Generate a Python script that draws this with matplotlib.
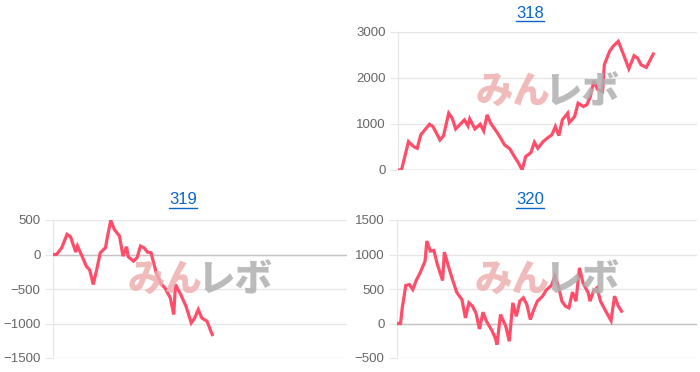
import matplotlib.pyplot as plt

plt.rcParams['font.family'] = ['Liberation Sans', 'DejaVu Sans']

# 318
x318 = [0, 2, 6, 9, 11, 13, 18, 20, 24, 26, 29, 31, 33, 38, 40, 41, 44, 47, 49, 51,
        53, 57, 61, 64, 66, 69, 71, 73, 76, 78, 80, 83, 86, 88, 90, 92, 94, 97, 98, 101,
        103, 106, 108, 110, 112, 114, 117, 118, 121, 123, 126, 129, 132, 135, 137, 139, 142, 146]
y318 = [0, 0, 617, 508, 472, 763, 995, 944, 654, 741, 1235, 1126, 893, 1090, 959, 1111, 893, 995, 850, 1199,
        1017, 799, 545, 458, 327, 145, 0, 291, 378, 603, 472, 617, 712, 763, 944, 748, 1090, 1235, 1031, 1162,
        1453, 1380, 1417, 1598, 1940, 1758, 1707, 2288, 2579, 2688, 2797, 2506, 2201, 2484, 2433, 2288, 2230, 2521]

# 319
x319 = [0, 2, 5, 8, 10, 13, 14, 17, 19, 21, 23, 25, 27, 30, 31, 33, 35, 38, 40, 42,
        43, 46, 48, 50, 52, 54, 56, 59, 62, 64, 67, 69, 70, 73, 76, 79, 81, 83, 85, 88, 90, 91]
y319 = [0, 0, 98, 292, 258, 35, 122, -47, -168, -226, -435, -217, 25, 98, 243, 495, 364, 267, -23, 113,
        -33, -96, -47, 122, 98, 35, 25, -266, -435, -484, -628, -870, -435, -580, -750, -992, -919, -798, -919, -967, -1098, -1161]

# 320
x320 = [0, 2, 3, 5, 7, 9, 11, 13, 16, 17, 19, 21, 23, 26, 27, 29, 31, 34, 36, 37,
        39, 41, 43, 45, 47, 49, 51, 54, 56, 57, 59, 62, 64, 66, 68, 70, 72, 74, 76, 78,
        80, 83, 85, 88, 90, 92, 94, 96, 98, 100, 102, 104, 106, 109, 110, 112, 114, 116, 119, 122,
        124, 126, 128]
y320 = [0, 0, 226, 551, 565, 493, 628, 725, 904, 1195, 1050, 1059, 856, 623, 1035, 856, 686, 454, 381, 348,
        81, 299, 251, 154, -79, 163, 33, -98, -209, -306, 130, -40, -258, 299, 105, 323, 372, 275, 57, 202,
        323, 396, 483, 551, 686, 541, 323, 251, 227, 455, 323, 807, 590, 444, 323, 469, 517, 323, 178, 42,
        396, 260, 178]

W, H = 700, 372
fig = plt.figure(figsize=(7, 3.72), dpi=100)

panels = [
    ('318', x318, y318, (398, 697, 32, 170), (0, 3000), [0, 1000, 2000, 3000], 171, 530, 13),
    ('319', x319, y319, (53, 347, 220, 358), (-1500, 500), [-1500, -1000, -500, 0, 500], 168, 183, 200),
    ('320', x320, y320, (397, 697, 220, 358), (-500, 1500), [-500, 0, 500, 1000, 1500], 171, 530, 200),
]

for title, xs, ys, (l, r, t, b), ylim, yticks, xmax, tx, ty in panels:
    ax = fig.add_axes([l / W, 1 - b / H, (r - l) / W, (b - t) / H])
    ax.plot(xs, ys, color='#ff4d6a', lw=2.3, zorder=5, solid_joinstyle='miter')
    ax.set_xlim(0, xmax)
    ax.set_ylim(*ylim)
    ax.set_yticks(yticks)
    ax.set_xticks([])
    ax.grid(axis='y', color='#e6e6e6', lw=1)
    ax.axhline(0, color='#c4c4c4', lw=1, zorder=1)
    for s in ['top', 'right', 'bottom']:
        ax.spines[s].set_visible(False)
    ax.spines['left'].set_color('#e6e6e6')
    ax.tick_params(axis='y', length=6, color='#e6e6e6', labelcolor='#666666',
                   labelsize=9.5, pad=3)
    ax.set_axisbelow(True)
    # watermark
    cx = (l + r) / 2 / W
    cy = 1 - ((t + b) / 2 - 9) / H
    fig.text(cx + 0.004, cy, 'みん', ha='right', va='center', fontsize=27,
             fontweight='heavy', color='#eeb0b0', alpha=0.85,
             family=['Noto Sans CJK JP'], zorder=3)
    fig.text(cx - 0.004, cy, 'レボ', ha='left', va='center', fontsize=27,
             fontweight='heavy', color='#b0b0b0', alpha=0.85,
             family=['Noto Sans CJK JP'], zorder=3)
    fig.text(tx / W, 1 - ty / H, title, ha='center', va='center', fontsize=12,
             color='#0a66cc').set_url('#')
    # underline
    fig.add_artist(plt.Line2D([(tx - 14) / W, (tx + 14) / W],
                              [1 - (ty + 8) / H, 1 - (ty + 8) / H],
                              color='#0a66cc', lw=1))

fig.savefig('out.png', dpi=100)
